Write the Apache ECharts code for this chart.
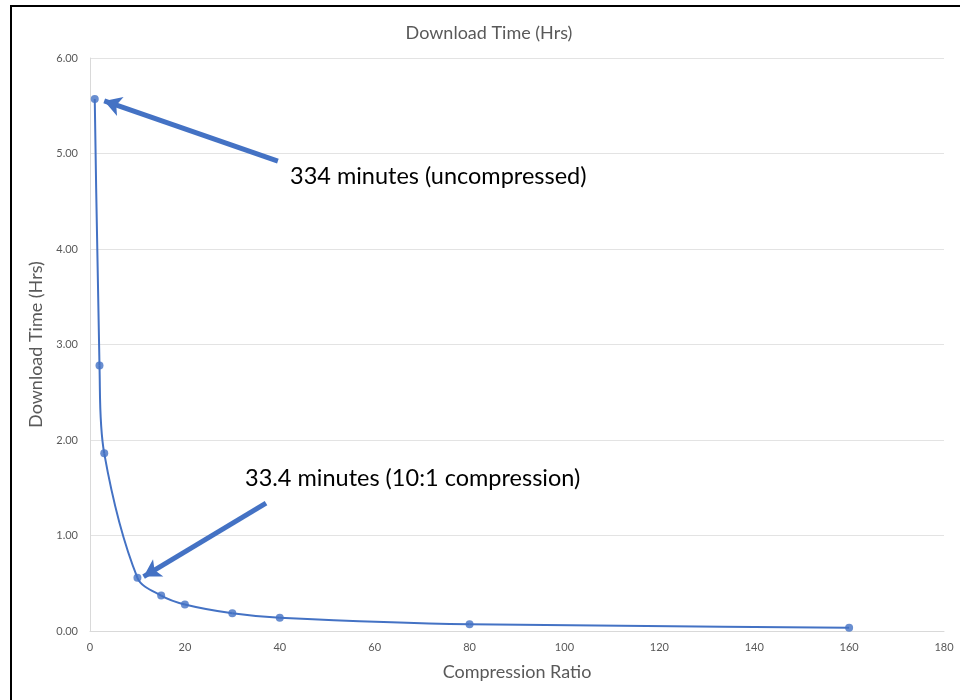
<!DOCTYPE html>
<html>
<head>
<meta charset="utf-8">
<script src="https://cdn.jsdelivr.net/npm/echarts@6/dist/echarts.min.js"></script>
<style>
  html, body { margin: 0; padding: 0; background: #fff; }
  #frame { position: absolute; left: 10px; top: 5px; width: 960px; height: 700px; border-left: 2px solid #000; border-top: 2px solid #000; box-sizing: border-box; }
  #chart { position: absolute; left: 0; top: 0; width: 960px; height: 700px; }
</style>
</head>
<body>
<div id="chart"></div>
<div id="frame"></div>
<script>
// Compression ratio vs. download time in hours
const ratios = [1, 2, 3, 10, 15, 20, 30, 40, 80, 160];
const hours = [5.57, 2.78, 1.86, 0.557, 0.371, 0.278, 0.186, 0.139, 0.0696, 0.0348];
const xTicks = { min: 0, max: 180, step: 20 };
const yTicks = { min: 0, max: 6, step: 1 };

// Callout arrows: tail point and tip point in data units
const callouts = [
  { text: '334 minutes (uncompressed)', tail: [39.6, 4.92], tip: [3.0, 5.55], textPos: [290, 178] },
  { text: '33.4 minutes (10:1 compression)', tail: [37.1, 1.34], tip: [11.3, 0.57], textPos: [245, 480] }
];

const font = 'Lato, "Open Sans", sans-serif';
const grey = '#595959';
const blue = '#4472C4';

const points = ratios.map((r, i) => [r, hours[i]]);

// Smooth curve through the points: cubic Bezier segments whose control
// arms follow the neighbour chord, weighted by segment lengths (pixel space).
const TENSION = 1 / 3;
function renderSegment(params, api) {
  const i = params.dataIndex;
  const n = points.length;
  if (i >= n - 1) return null;
  const p = k => api.coord(points[Math.max(0, Math.min(n - 1, k))]);
  const dist = (a, b) => Math.hypot(a[0] - b[0], a[1] - b[1]);
  const p0 = p(i - 1), p1 = p(i), p2 = p(i + 1), p3 = p(i + 2);
  const d0 = dist(p0, p1), d1 = dist(p1, p2), d2 = dist(p2, p3);
  const w1 = (d0 + d1) > 0 ? TENSION * d1 / (d0 + d1) : 0;
  const w2 = (d1 + d2) > 0 ? TENSION * d1 / (d1 + d2) : 0;
  return {
    type: 'bezierCurve',
    shape: {
      x1: p1[0], y1: p1[1], x2: p2[0], y2: p2[1],
      cpx1: p1[0] + (p2[0] - p0[0]) * w1, cpy1: p1[1] + (p2[1] - p0[1]) * w1,
      cpx2: p2[0] - (p3[0] - p1[0]) * w2, cpy2: p2[1] - (p3[1] - p1[1]) * w2
    },
    style: { stroke: blue, lineWidth: 2, fill: null }
  };
}

const chart = echarts.init(document.getElementById('chart'), null, { renderer: 'canvas' });

chart.setOption({
  animation: false,
  backgroundColor: '#fff',
  title: {
    text: 'Download Time (Hrs)',
    left: 484, top: 19, textAlign: 'center',
    textStyle: { fontFamily: font, fontSize: 18, fontWeight: 'normal', color: grey }
  },
  grid: { left: 90, right: 16, top: 58, bottom: 69 },
  xAxis: {
    type: 'value', min: xTicks.min, max: xTicks.max, interval: xTicks.step,
    name: 'Compression Ratio', nameLocation: 'middle', nameGap: 32,
    nameTextStyle: { fontFamily: font, fontSize: 18, color: grey },
    axisLine: { show: true, lineStyle: { color: '#d9d9d9', width: 1 } },
    axisTick: { show: false },
    axisLabel: { fontFamily: font, fontSize: 11, color: grey, margin: 11 },
    splitLine: { show: false }
  },
  yAxis: {
    type: 'value', min: yTicks.min, max: yTicks.max, interval: yTicks.step,
    name: 'Download Time (Hrs)', nameLocation: 'middle', nameGap: 34,
    nameTextStyle: { fontFamily: font, fontSize: 18, color: grey },
    axisLine: { show: true, lineStyle: { color: '#d9d9d9', width: 1 } },
    axisTick: { show: false },
    axisLabel: { fontFamily: font, fontSize: 11, color: grey, margin: 12, formatter: v => v.toFixed(2) },
    splitLine: { show: true, lineStyle: { color: '#e3e3e3', width: 1 } }
  },
  series: [
    {
      type: 'custom',
      data: points,
      encode: { x: 0, y: 1 },
      renderItem: renderSegment,
      silent: true,
      z: 2
    },
    {
      type: 'scatter',
      data: points,
      symbol: 'circle',
      symbolSize: 8,
      itemStyle: { color: blue },
      z: 3,
      markLine: {
        silent: true,
        symbol: ['none', 'arrow'],
        symbolSize: [15, 17],
        label: { show: false },
        lineStyle: { color: blue, width: 5, type: 'solid' },
        data: callouts.map(c => [{ coord: c.tail }, { coord: c.tip }])
      }
    }
  ],
  graphic: callouts.map(c => ({
    type: 'text',
    left: c.textPos[0],
    top: c.textPos[1] - 14,
    style: { text: c.text, fontFamily: font, fontSize: 23.5, fill: '#000' }
  }))
});
</script>
</body>
</html>
